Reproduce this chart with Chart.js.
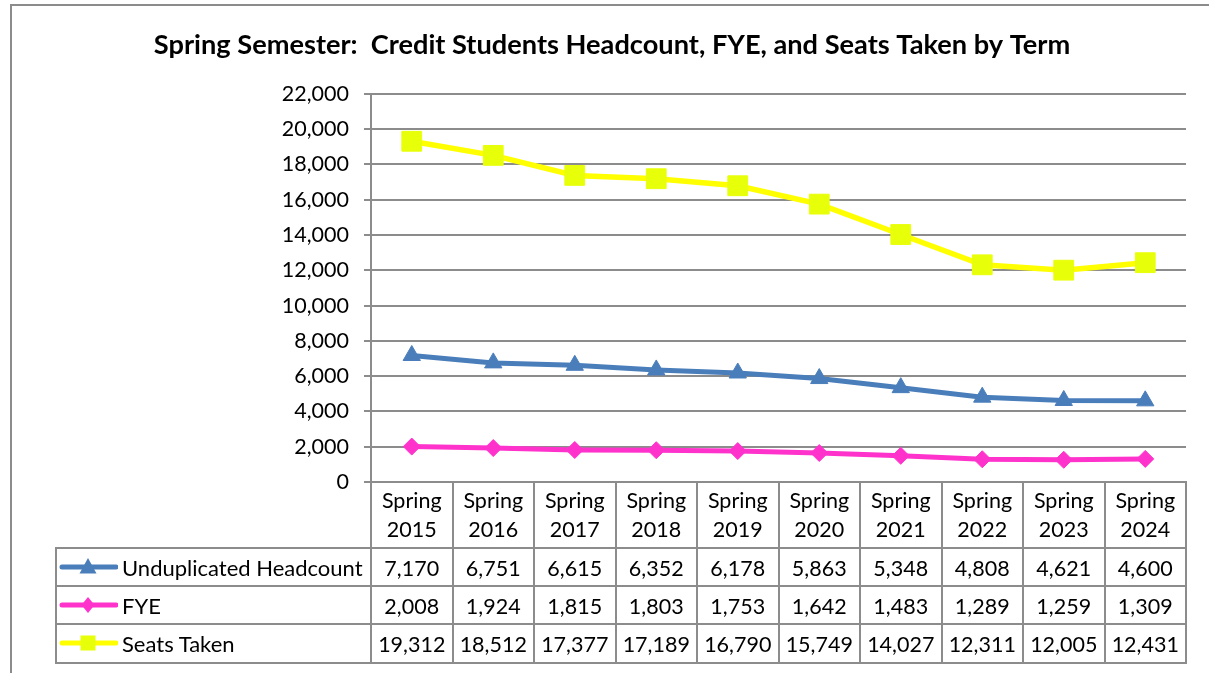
<!DOCTYPE html>
<html><head><meta charset="utf-8">
<script src="https://cdn.jsdelivr.net/npm/chart.js@4.4.1/dist/chart.umd.min.js"></script>
<style>
html,body{margin:0;padding:0;background:#fff;overflow:hidden;}
#wrap{position:relative;width:1209px;height:673px;overflow:hidden;}
#frame{position:absolute;left:10px;top:4px;width:1400px;height:900px;border-left:2px solid #8c8c8c;border-top:2px solid #8c8c8c;}
#c{position:absolute;left:0;top:0;}
.ln{position:absolute;background:#8c8c8c;}
.tx{position:absolute;font-family:Lato,"Open Sans",sans-serif;font-size:21.5px;color:#000;white-space:nowrap;}
</style></head>
<body><div id="wrap"><div id="frame"></div><canvas id="c" width="1209" height="673"></canvas><div id="tbl"></div></div>
<script>
const categories = ['Spring 2015','Spring 2016','Spring 2017','Spring 2018','Spring 2019','Spring 2020','Spring 2021','Spring 2022','Spring 2023','Spring 2024'];
const headcount = [7170,6751,6615,6352,6178,5863,5348,4808,4621,4600];
const fye = [2008,1924,1815,1803,1753,1642,1483,1289,1259,1309];
const seats = [19312,18512,17377,17189,16790,15749,14027,12311,12005,12431];
const seriesNames = ['Unduplicated Headcount','FYE','Seats Taken'];
const chartTitle = 'Spring Semester:  Credit Students Headcount, FYE, and Seats Taken by Term';

const GRID = '#8c8c8c';
const chart = new Chart(document.getElementById('c'), {
  type:'line',
  data:{labels:categories, datasets:[
    {label:seriesNames[0], data:headcount, borderColor:'#4A7EBB', backgroundColor:'#4A7EBB', borderWidth:5, pointStyle:'triangle', pointRadius:10, pointBorderWidth:1, pointBackgroundColor:'#4A7EBB', pointBorderColor:'#4A7EBB'},
    {label:seriesNames[1], data:fye, borderColor:'#FF33CC', backgroundColor:'#FF33CC', borderWidth:5, pointStyle:'rectRot', pointRadius:8.5, pointBorderWidth:1, pointBackgroundColor:'#FF33CC', pointBorderColor:'#FF33CC'},
    {label:seriesNames[2], data:seats, borderColor:'#FFFF00', backgroundColor:'#E8FF0A', borderWidth:5.5, pointStyle:'rect', pointRadius:14, pointBorderWidth:1, pointBackgroundColor:'#E8FF0A', pointBorderColor:'#E8FF0A'}
  ]},
  options:{
    responsive:false, animation:false, events:[],
    layout:{padding:{left:15,right:0,top:0,bottom:0}},
    plugins:{
      legend:{display:false}, tooltip:{enabled:false},
      title:{display:true, text:chartTitle, color:'#000', font:{family:'Lato', size:27.2, weight:'bold', lineHeight:1.2}, padding:{top:28.7,bottom:32.5}}
    },
    scales:{
      x:{type:'category', offset:true, grid:{display:false}, border:{display:false}, ticks:{display:false}, afterFit(s){s.height=191;}},
      y:{min:0, max:22000, position:'left',
         ticks:{stepSize:2000, color:'#000', font:{family:'Lato', size:21.5}, padding:15, callback:v=>v.toLocaleString('en-US')},
         grid:{color:GRID, lineWidth:2, tickLength:7, tickColor:GRID, tickWidth:2},
         border:{color:GRID, width:2},
         afterFit(s){s.width=356;}},
      y2:{type:'linear', position:'right', grid:{display:false}, border:{display:false}, ticks:{display:false}, afterFit(s){s.width=23;}}
    }
  }
});

// data table below the plot, aligned with the category scale
(function(){
  const ca = chart.chartArea;
  const xs = chart.scales.x;
  const tbl = document.getElementById('tbl');
  const n = categories.length;
  const colW = (ca.right - ca.left)/n;
  const top = ca.bottom;
  const headH = 66, rowH = 38.2;
  const legL = 56;
  function line(x,y,w,h){const d=document.createElement('div');d.className='ln';d.style.left=x+'px';d.style.top=y+'px';d.style.width=w+'px';d.style.height=h+'px';tbl.appendChild(d);}
  function text(s,x,y,w,h,align,lh,fs){const d=document.createElement('div');d.className='tx';d.style.left=x+'px';d.style.top=y+'px';d.style.width=w+'px';d.style.height=h+'px';d.style.textAlign=align;d.style.lineHeight=(lh||h)+'px';if(fs)d.style.fontSize=fs+'px';d.innerHTML=s;tbl.appendChild(d);return d;}
  const bottom = top + headH + 3*rowH;
  for(let i=0;i<=n;i++){ const x = ca.left + i*colW; line(x-1, top-1, 2, bottom-top+2); }
  line(legL-1, top+headH-1, 2, bottom-(top+headH)+2);
  for(let r=0;r<=3;r++){ const y = top+headH+r*rowH; line(legL-1, y-1, ca.right-legL+2, 2); }
  categories.forEach((c,i)=>{
    const cx = xs.getPixelForValue(i);
    const parts = c.split(' ');
    text(parts.join('<br>'), cx-colW/2, top+4, colW, 58, 'center', 29);
  });
  const rows = [headcount, fye, seats];
  const colors = ['#4A7EBB','#FF33CC','#FFFF00'];
  const markers = [
    '<polygon points="30,2 38.5,17.5 21.5,17.5" fill="#4A7EBB"/>',
    '<polygon points="30,3 36.5,11 30,19 23.5,11" fill="#FF33CC"/>',
    '<rect x="22.5" y="3.5" width="15" height="15" fill="#E8FF0A"/>'
  ];
  rows.forEach((arr,r)=>{
    const y = top+headH+r*rowH;
    arr.forEach((v,i)=>{
      const cx = xs.getPixelForValue(i);
      text(v.toLocaleString('en-US'), cx-colW/2, y+1, colW, rowH, 'center');
    });
    const icon = '<svg width="60" height="22" style="position:absolute;left:0;top:'+((rowH-22)/2)+'px"><line x1="4" y1="11" x2="58" y2="11" stroke="'+colors[r]+'" stroke-width="5" stroke-linecap="round"/>'+markers[r]+'</svg>';
    text(icon, legL+2, y, 64, rowH, 'left');
    text(seriesNames[r], 122, y+1, ca.left-122, rowH, 'left', null, 22);
  });
})();
</script>
</body></html>
